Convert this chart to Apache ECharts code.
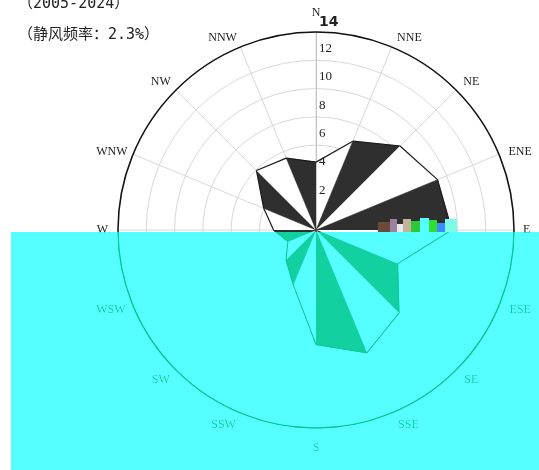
<!DOCTYPE html>
<html>
<head>
<meta charset="utf-8">
<script src="https://cdn.jsdelivr.net/npm/echarts@6/dist/echarts.min.js"></script>
<style>html,body{margin:0;padding:0;background:#fff;}#chart{width:539px;height:470px;}</style>
</head>
<body>
<div id="chart"></div>
<script>
// Wind directions (clockwise from N) and frequencies (%)
const directions = ['N','NNE','NE','ENE','E','ESE','SE','SSE','S','SSW','SW','WSW','W','WNW','NW','NNW'];
const frequencies = [4.8, 6.8, 8.4, 9.3, 9.6, 6.25, 8.3, 9.4, 8.1, 4.2, 3.0, 2.15, 3.0, 4.0, 5.95, 5.5];
const radiusTicks = [0, 2, 4, 6, 8, 10, 12, 14];
const periodText = '（2005-2024）';
const calmText = '（静风频率：2.3%）';

const step = 360 / directions.length;
const triangles = directions.map((d, i) => {
  const j = (i + 1) % directions.length;
  return [frequencies[i], i * step, frequencies[j], (i + 1) * step];
});

const chart = echarts.init(document.getElementById('chart'), null, {renderer: 'canvas'});
const serif = 'Liberation Serif, DejaVu Serif, serif';
const titleFont = 'DejaVu Sans Mono, Noto Sans CJK SC';

// label style class per direction index (fine placement only)
const labelClasses = ['n','ru1','ru1','ru2','e','rl2','rl1','rl1','s','ll1','ll1','ll2','w','lu2','lu1','lu1'];

function renderItem(params, api) {
  const i = params.dataIndex;
  const c = api.coord([0, api.value(1)]);
  const p1 = api.coord([api.value(0), api.value(1)]);
  const p2 = api.coord([api.value(2), api.value(3)]);
  const dark = (i % 2 === 1);
  return {
    type: 'group',
    children: [
      {type: 'polygon', shape: {points: [c, p1, p2]},
       style: {fill: dark ? '#2f2f2f' : '#ffffff', stroke: dark ? '#2f2f2f' : null, lineWidth: dark ? 0.5 : 0}},
      {type: 'line', shape: {x1: p1[0], y1: p1[1], x2: p2[0], y2: p2[1]},
       style: {stroke: '#1a1a1a', lineWidth: 1.2}}
    ]
  };
}

const noise = [
  [378, 222, 12, 10, '#6b4a3a'], [390, 219, 7, 13, '#9a82a0'], [397, 224, 6, 8, '#e8e8e8'],
  [403, 219, 8, 13, '#c2b49a'], [411, 221, 9, 11, '#2bc83a'], [420, 218, 9, 14, '#55ffff'],
  [429, 220, 8, 12, '#30dd30'], [437, 223, 8, 9, '#3a8cff'], [445, 219, 12, 13, '#7dfbe8']
];

const lblBase = {color: '#222', fontSize: 12, fontFamily: serif};
function lbl(pad) { return Object.assign({padding: pad}, lblBase); }

chart.setOption({
  backgroundColor: '#ffffff',
  animation: false,
  title: [
    {text: periodText, left: 13, top: -8, textStyle: {fontSize: 15, fontWeight: 'normal', color: '#222', fontFamily: titleFont}},
    {text: calmText, left: 13, top: 23, textStyle: {fontSize: 15, fontWeight: 'normal', color: '#222', fontFamily: titleFont}}
  ],
  polar: [
    {center: [316, 230], radius: 198},
    {center: [316, 230], radius: 198}
  ],
  angleAxis: [
    {polarIndex: 0, type: 'value', min: 0, max: 360, interval: step, startAngle: 90, clockwise: true,
     axisLine: {show: true, lineStyle: {color: '#111', width: 1.5}},
     axisTick: {show: false},
     axisLabel: {show: true, color: '#222', fontSize: 12, fontFamily: serif, margin: 6,
       formatter: v => {
         const i = Math.round(v / step) % directions.length;
         return '{' + labelClasses[i] + '|' + directions[i] + '}';
       },
       rich: {
         n: lbl([0, 0, 7, 0]),
         s: lbl([8, 0, 0, 0]),
         e: lbl([0, 0, 0, 3]),
         w: lbl([0, 4, 0, 0]),
         ru1: lbl([0, 0, -2, 3]),
         ru2: lbl([0, 0, -6, 4]),
         rl1: lbl([0, 0, 0, 4]),
         rl2: lbl([-4, 0, 0, 5]),
         lu1: lbl([0, 1, -2, 0]),
         lu2: lbl([0, 0, -6, 0]),
         ll1: lbl([0, 2, 0, 0]),
         ll2: lbl([-4, 2, 0, 0])
       }},
     splitLine: {show: true, lineStyle: {color: '#d8d8d8', width: 1}}},
    {polarIndex: 1, type: 'value', min: 0, max: 360, interval: step, startAngle: 90, clockwise: true, show: false}
  ],
  radiusAxis: [
    {polarIndex: 0, min: 0, max: 14, interval: 2,
     axisLine: {show: true, lineStyle: {color: '#bbb', type: 'dotted'}},
     axisTick: {show: false}, axisLabel: {show: false},
     splitLine: {show: true, lineStyle: {color: '#d8d8d8', width: 1}}},
    {polarIndex: 1, min: 0, max: 14, interval: 2, z: 10,
     axisLine: {show: false}, axisTick: {show: false}, splitLine: {show: false},
     axisLabel: {show: true, margin: -3, verticalAlign: 'bottom', align: 'left',
       color: '#222', fontSize: 13, fontFamily: serif, padding: [0, 0, 5, 0],
       formatter: v => (v === 0 ? '' : (v === 14 ? '{b|14}' : String(v))),
       rich: {b: {fontSize: 14, fontWeight: 'bold', fontFamily: 'DejaVu Sans', color: '#222', padding: [0, 0, -2, 0]}}}}
  ],
  series: [
    {type: 'custom', coordinateSystem: 'polar', polarIndex: 0, z: 3, data: triangles, renderItem: renderItem, silent: true}
  ],
  graphic: {elements: [
    {type: 'rect', z: 99, silent: true, shape: {x: 11, y: 232, width: 528, height: 238},
     style: {fill: 'rgb(40,40,40)', blend: 'color-dodge'}},
    {type: 'rect', z: 100, silent: true, shape: {x: 11, y: 232, width: 528, height: 238},
     style: {fill: 'rgb(85,255,255)', blend: 'multiply'}},
    {type: 'rect', z: 101, silent: true, shape: {x: 11, y: 232, width: 528, height: 238},
     style: {fill: 'rgb(0,195,135)', blend: 'screen'}}
  ].concat(noise.map(n => ({type: 'rect', z: 102, silent: true, shape: {x: n[0], y: n[1], width: n[2], height: n[3]}, style: {fill: n[4]}})))}
});
</script>
</body>
</html>
